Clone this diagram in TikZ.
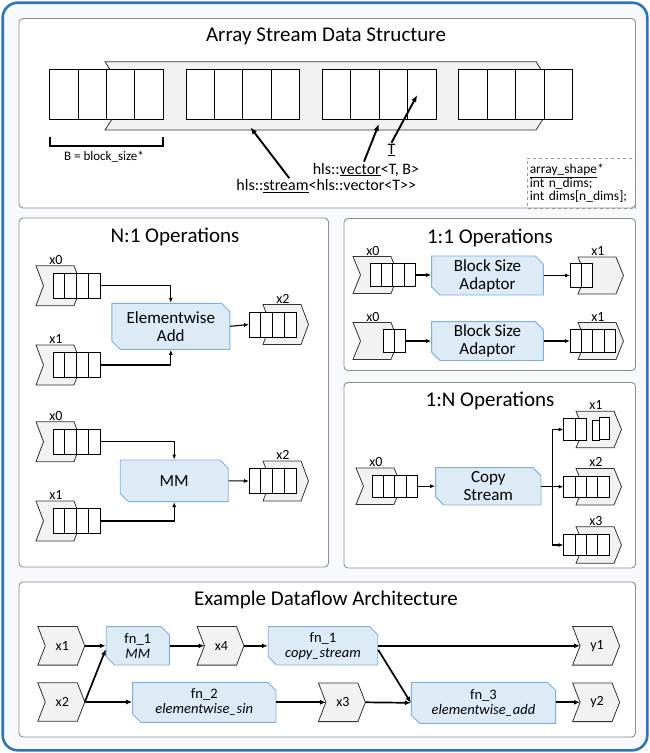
\documentclass[tikz,border=0pt]{standalone}
\usepackage{fontspec}
\setmainfont{Carlito}
\usetikzlibrary{calc, positioning}
\usetikzlibrary{arrows.meta}
\usetikzlibrary{shapes.misc}

\definecolor{frameblue}{HTML}{2E75B6}
\definecolor{backfill}{HTML}{F7F9FC}
\definecolor{panelline}{HTML}{8F8F8F}
\definecolor{chevfill}{HTML}{F2F2F2}
\definecolor{opfill}{HTML}{DDEBF7}
\definecolor{opline}{HTML}{7FB0DE}

\tikzset{
  panel/.style={draw=panelline, fill=white, line width=0.9pt, rounded corners=4pt},
  sectitle/.style={font=\fontsize{21}{24}\selectfont, inner sep=0pt},
  chevline/.style={draw=black!80, fill=chevfill, line width=0.8pt},
  cell/.style={draw=black, fill=white, line width=0.8pt},
  lab/.style={font=\fontsize{14}{16}\selectfont, inner sep=0pt},
  typelab/.style={font=\fontsize{16}{18}\selectfont, inner sep=1pt},
  opbox/.style={chamfered rectangle, chamfered rectangle corners={north east, south west},
    chamfered rectangle xsep=5pt, draw=opline, fill=opfill, line width=0.9pt,
    align=center, inner sep=0pt, font=\fontsize{17}{18}\selectfont},
  flowbox/.style={opbox, font=\fontsize{14.5}{15}\selectfont},
  flow/.style={-{Latex[length=5pt,width=4pt]}, line width=1.1pt},
  bigflow/.style={-{Latex[length=6pt,width=5pt]}, line width=1.7pt},
  ptr/.style={-{Latex[length=7pt,width=5.5pt]}, line width=1.9pt},
  shapenote/.style={draw=black!40, dashed, line width=0.9pt, align=left,
    text width=104pt, inner xsep=2pt, inner ysep=4pt, minimum height=50.5pt,
    font=\fontsize{13.5}{13.2}\selectfont},
  % stream icon: label, cell offset, number of cells
  pics/stream/.style n args={3}{code={
    \draw[chevline] (0,-\chh) -- ++(\chw,0) -- ++(\chd,\chh) -- ++(-\chd,\chh)
      -- ++(-\chw,0) -- ++(\chd,-\chh) -- cycle;
    \node[lab, anchor=base] (-lab) at (20,{-\chh-1.5}) {#1};
    \foreach \k in {1,...,#3}
      \draw[cell] ({#2+(\k-1)*\cw},-\chc) rectangle ++(\cw,{2*\chc});
    \coordinate (-in) at (#2,0);
    \coordinate (-out) at ({#2+#3*\cw},0);
  }},
  % plain tagged chevron
  pics/tag/.style={code={
    \draw[chevline] (0,-\chh) -- ++(\chw,0) -- ++(\chd,\chh) -- ++(-\chd,\chh)
      -- ++(-\chw,0) -- ++(\chd,-\chh) -- cycle;
    \node[lab] (-lab) at ({0.5*(\chw+\chd)+1},0) {#1};
    \coordinate (-in) at (\chd,0);
    \coordinate (-tip) at ({\chw+\chd},0);
  }},
}

\begin{document}
\begin{tikzpicture}[x=1pt, y=-1pt]
\useasboundingbox (0,0) rectangle (650,753);

\draw[draw=frameblue, fill=backfill, line width=2.6pt, rounded corners=15pt]
  (2.7,2.7) rectangle (647.3,750.3);

\draw[panel] (19,18.5) rectangle (635.5,208);
\draw[panel] (19,218) rectangle (328.5,567);
\draw[panel] (344,218.5) rectangle (635.5,370.5);
\draw[panel] (344,382.5) rectangle (635.5,568);
\draw[panel] (19,582) rectangle (635.5,737);

%% array stream layout
\node[sectitle] (ttop) at (326,36.7) {Array Stream Data Structure};

\draw[chevline]
  (105,61.7) -- (536,61.7) -- (558,96) -- (536,130) -- (105,130) -- (127,96) -- cycle;
\foreach \b in {0,...,3}
  \foreach \c in {0,...,3}
    \draw[cell] ({49.6+\b*136.4+\c*28.4},69.3) rectangle ++(28.4,50);

\draw[line width=1.8pt] (49.6,136.7) -- (49.6,146) -- (163,146) -- (163,136.7);
\node[font=\fontsize{13}{14}\selectfont] (bsz) at (104,156.7) {B = block\_size*};

\node[typelab] (tvar) at (391.5,150) {\underline{T}};
\node[typelab] (vecty) at (366,169.5) {hls::\underline{vector}<T, B>};
\node[typelab] (strty) at (326.3,186) {hls::\underline{stream}<hls::vector<T>{}>};

\coordinate (onstream) at (250.4,127.3);
\coordinate (onvector) at (378.9,124);
\coordinate (onelem) at (417.2,95);
\draw[ptr] ([xshift=-37pt]strty.north) -- (onstream);
\draw[ptr] ([xshift=-2pt]vecty.north) -- (onvector);
\draw[ptr] (tvar.north) -- (onelem);

\node[shapenote, anchor=north west] (shp) at (527.3,157.5)
  {\underline{array\_shape}*\\int n\_dims;\\int dims[n\_dims];};

%% N:1 operations
\node[sectitle] (tn1) at (175,236.7) {N:1 Operations};
\def\chw{38}\def\chd{7.5}\def\chh{20}\def\cw{11.8}\def\chc{12.5}

\pic (n1a) at (36,285.7) {stream={x0}{17}{4}};
\pic (n1b) at (36,365) {stream={x1}{17}{4}};
\node[opbox, minimum width=118pt, minimum height=46pt] (ew) at (170.8,326.3)
  {Elementwise\\Add};
\pic (n1c) at (263,324.5) {stream={x2}{-14}{4}};
\draw[flow] (n1a-out) -| (ew.north);
\draw[flow] (n1b-out) -| (ew.south);
\draw[flow] (ew.east) -- (n1c-in);

\pic (n1d) at (36,441.7) {stream={x0}{17}{4}};
\pic (n1e) at (36,521) {stream={x1}{17}{4}};
\node[opbox, minimum width=108pt, minimum height=41.7pt] (mm) at (174.2,480.8) {MM};
\pic (n1f) at (263,481) {stream={x2}{-14}{4}};
\draw[flow] (n1d-out) -| (mm.north);
\draw[flow] (n1e-out) -| (mm.south);
\draw[flow] (mm.east) -- (n1f-in);

%% 1:1 operations
\node[sectitle] (t11) at (490,237.7) {1:1 Operations};
\def\chh{18.5}\def\cw{11.4}\def\chc{11.8}

\pic (ia) at (353,275) {stream={x0}{17}{4}};
\node[opbox, minimum width=111.7pt, minimum height=39pt] (bs1) at (487.5,275.5)
  {Block Size\\Adaptor};
\pic (oa) at (578,275.5) {stream={x1}{-8}{2}};
\draw[flow] (ia-out) -- (bs1.west |- ia-out);
\draw[flow] (bs1.east |- oa-in) -- (oa-in);

\pic (ib) at (353,341) {stream={x0}{30}{2}};
\node[opbox, minimum width=111.7pt, minimum height=38.3pt] (bs2) at (487.5,341)
  {Block Size\\Adaptor};
\pic (ob) at (578,341) {stream={x1}{-8}{4}};
\draw[flow] (ib-out) -- (bs2.west);
\draw[flow] (bs2.east) -- (ob-in);

%% 1:N operations
\node[sectitle] (t1n) at (490,400.7) {1:N Operations};
\def\chh{18.3}\def\chc{10.8}

\pic (ja) at (356,486.2) {stream={x0}{16}{4}};
\node[opbox, minimum width=105.3pt, minimum height=37.3pt] (cp) at (488.3,486.3)
  {Copy\\Stream};
\pic (jb) at (576,429.5) {stream={x1}{-12.5}{2}};
\draw[cell] (592.3,420) rectangle (599,440);
\draw[cell] (599,417.3) rectangle (609.3,439);
\pic (jc) at (576,486.7) {stream={x2}{-12.5}{4}};
\pic (jd) at (576,545) {stream={x3}{-12.5}{4}};

\coordinate (fork) at ([xshift=11.3pt]cp.east);
\draw[flow] (ja-out) -- (cp.west |- ja-out);
\draw[flow] (cp.east) -- (fork) |- (jb-in);
\draw[flow] (cp.east) -- (fork) |- (jc-in);
\draw[flow] (cp.east) -- (fork) |- (jd-in);

%% example dataflow
\node[sectitle] (tdf) at (326,600) {Example Dataflow Architecture};
\def\chw{39.5}\def\chd{7.5}\def\chh{19.3}

\pic (dx1) at (37.8,645.8) {tag=x1};
\pic (dx2) at (37.8,702) {tag=x2};
\node[flowbox, minimum width=63.2pt, minimum height=38.3pt] (mmop) at (137.8,645.8)
  {fn\_1\\\textit{MM}};
\pic (dx4) at (197,645.8) {tag=x4};
\node[flowbox, minimum width=109.5pt, minimum height=38.3pt] (csop) at (323,645.8)
  {fn\_1\\\textit{copy\_stream}};
\pic (dy1) at (572.6,645.8) {tag=y1};
\node[flowbox, minimum width=143.4pt, minimum height=40pt] (sinop) at (204.3,702.3)
  {fn\_2\\\textit{elementwise\_sin}};
\pic (dx3) at (318.4,702.3) {tag=x3};
\node[flowbox, minimum width=144.3pt, minimum height=41pt] (addop) at (483.5,702.8)
  {fn\_3\\\textit{elementwise\_add}};
\pic (dy2) at (572.6,702.3) {tag=y2};

\draw[bigflow] (dx1-tip) -- (mmop.west);
\draw[bigflow] (dx2-tip) -- ([yshift=-3.5pt]mmop.west);
\draw[bigflow] (dx2-tip) -- (sinop.west |- dx2-tip);
\draw[bigflow] (mmop.east) -- (dx4-in);
\draw[bigflow] (dx4-tip) -- (csop.west);
\draw[bigflow] (csop.east) -- (dy1-in);
\draw[bigflow] ([yshift=-4pt]csop.east) -- (addop.west);
\draw[bigflow] (sinop.east |- dx3-in) -- (dx3-in);
\draw[bigflow] (dx3-tip) -- (addop.west);
\draw[bigflow] (addop.east |- dy2-in) -- (dy2-in);
\end{tikzpicture}
\end{document}
